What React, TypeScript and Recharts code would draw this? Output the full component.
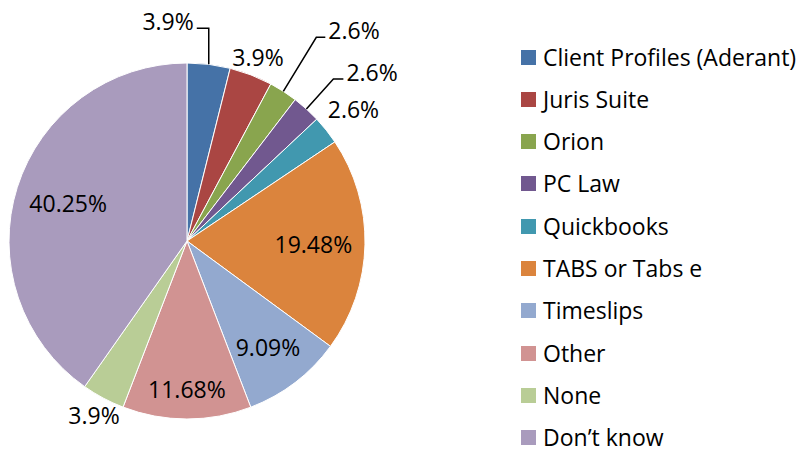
import React from 'react';
import { PieChart, Pie, Cell } from 'recharts';

const categories = [
  'Client Profiles (Aderant)',
  'Juris Suite',
  'Orion',
  'PC Law',
  'Quickbooks',
  'TABS or Tabs e',
  'Timeslips',
  'Other',
  'None',
  'Don\u2019t know',
];

const shares = [3.9, 3.9, 2.6, 2.6, 2.6, 19.48, 9.09, 11.68, 3.9, 40.25];

const colors = [
  '#4572a7',
  '#aa4643',
  '#89a54e',
  '#71588f',
  '#4198af',
  '#db843d',
  '#93a9cf',
  '#d19392',
  '#b9cd96',
  '#a99bbd',
];

const data = categories.map((name, i) => ({ name, value: shares[i] }));

// where each data label goes: inside / outside at a radius factor, or with a leader line
const labelPlacement: any[] = [
  { kind: 'leader', dx: 0, dy: -36, tail: -12 },
  { kind: 'radial', f: 1.11 },
  { kind: 'leader', dx: 33, dy: -54, tail: 9 },
  { kind: 'leader', dx: 27, dy: -30, tail: 10 },
  { kind: 'radial', f: 1.195 },
  { kind: 'radial', f: 0.71 },
  { kind: 'radial', f: 0.75 },
  { kind: 'radial', f: 0.83 },
  { kind: 'radial', f: 1.11 },
  { kind: 'radial', f: 0.7 },
];

const RADIAN = Math.PI / 180;
const FONT = '"Open Sans", "Noto Sans", sans-serif';
const FS = 23;
const ROW = 42.3;
const ROW_H = 22;

const renderLabel = (props: any) => {
  const { cx, cy, midAngle, outerRadius, index, value } = props;
  const p = labelPlacement[index];
  const cos = Math.cos(-midAngle * RADIAN);
  const sin = Math.sin(-midAngle * RADIAN);
  const text = `${value}%`;
  if (p.kind === 'radial') {
    const r = outerRadius * p.f;
    return (
      <text
        x={cx + r * cos}
        y={cy + r * sin}
        textAnchor="middle"
        dominantBaseline="central"
        fill="#000"
        fontSize={FS}
        fontFamily={FONT}
      >
        {text}
      </text>
    );
  }
  const ex = cx + outerRadius * cos;
  const ey = cy + outerRadius * sin;
  const kx = ex + p.dx;
  const ky = ey + p.dy;
  const tx = kx + p.tail;
  return (
    <g>
      <polyline
        points={`${ex},${ey} ${kx},${ky} ${tx},${ky}`}
        fill="none"
        stroke="#000"
        strokeWidth={1.5}
      />
      <text
        x={tx + (p.tail < 0 ? -3 : 3)}
        y={ky - 7}
        textAnchor={p.tail < 0 ? 'end' : 'start'}
        dominantBaseline="central"
        fill="#000"
        fontSize={FS}
        fontFamily={FONT}
      >
        {text}
      </text>
    </g>
  );
};

const LegendBox = () => (
  <div
    style={{
      position: 'absolute',
      left: 521,
      top: 46,
      fontFamily: FONT,
      fontSize: FS,
      lineHeight: 1,
      color: '#000',
    }}
  >
    {data.map((d, i) => (
      <div
        key={d.name}
        style={{
          display: 'flex',
          alignItems: 'center',
          height: ROW_H,
          marginBottom: i < data.length - 1 ? ROW - ROW_H : 0,
          whiteSpace: 'nowrap',
        }}
      >
        <span
          style={{
            display: 'inline-block',
            width: 15,
            height: 15,
            background: colors[i],
            marginRight: 7,
          }}
        />
        <span>{d.name}</span>
      </div>
    ))}
  </div>
);

export default function App() {
  return (
    <div
      style={{
        position: 'absolute',
        left: 0,
        top: 0,
        width: 802,
        height: 449,
        background: '#fff',
        overflow: 'hidden',
      }}
    >
      <PieChart width={802} height={449} margin={{ top: 0, right: 0, bottom: 0, left: 0 }}>
        <Pie
          data={data}
          dataKey="value"
          nameKey="name"
          cx={187}
          cy={241}
          outerRadius={178}
          startAngle={90}
          endAngle={-270}
          stroke="#fff"
          strokeWidth={1}
          label={renderLabel}
          labelLine={false}
          isAnimationActive={false}
        >
          {data.map((d, i) => (
            <Cell key={`cell-${i}`} fill={colors[i]} />
          ))}
        </Pie>
      </PieChart>
      <LegendBox />
    </div>
  );
}
